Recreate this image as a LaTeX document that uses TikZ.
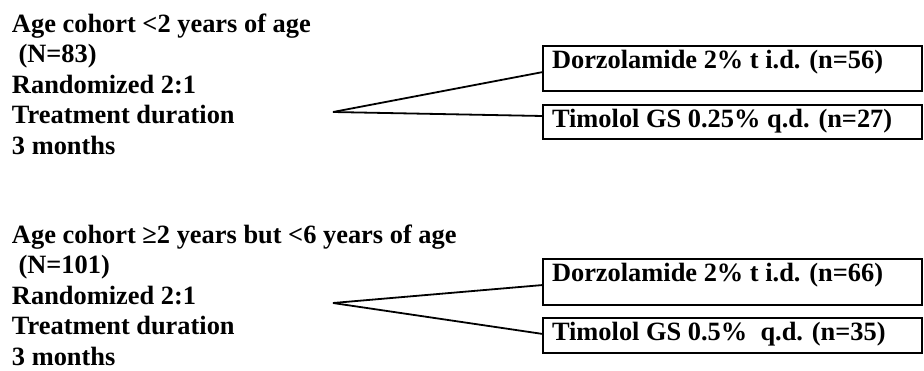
\documentclass[tikz,border=0pt]{standalone}
\usepackage{fontspec}
\setmainfont{Liberation Serif}
\usetikzlibrary{calc}
\begin{document}
\begin{tikzpicture}[x=1pt,y=-1pt,
  txt/.style={inner sep=0pt,outer sep=0pt,anchor=base west,align=left,
    font=\bfseries\fontsize{26.4}{30.5}\selectfont},
  armbox/.style={draw,line width=2.4pt,inner sep=0pt,outer sep=0pt,anchor=north west,minimum width=379pt},
  conn/.style={line width=1.8pt}]
\useasboundingbox (0,0) rectangle (924,370);
% top cohort (base anchor = baseline of last line)
\node[txt] (c1) at (12,154) {Age cohort <2 years of age\\\ (N=83)\\Randomized 2:1\\Treatment duration\\3 months};
\coordinate (a1) at (333,112);
\node[armbox,minimum height=45pt] (d1) at (543,46) {};
\node[armbox,minimum height=34pt] (t1) at (543,105) {};
\node[txt] (d1t) at (552,68) {Dorzolamide 2\% t i.d. (n=56)};
\node[txt] (t1t) at (552,127) {Timolol GS 0.25\% q.d. (n=27)};
\draw[conn] (a1) -- ([yshift=-3.5pt]d1.west);
\draw[conn] (a1) -- ([yshift=6pt]t1.west);
% bottom cohort
\node[txt] (c2) at (12,365) {Age cohort ≥2 years but <6 years of age\\\ (N=101)\\Randomized 2:1\\Treatment duration\\3 months};
\coordinate (a2) at (333,303);
\node[armbox,minimum height=46pt] (d2) at (543,259) {};
\node[armbox,minimum height=35pt] (t2) at (543,318) {};
\node[txt] (d2t) at (552,281) {Dorzolamide 2\% t i.d. (n=66)};
\node[txt] (t2t) at (552,340) {Timolol GS 0.5\%\ \ q.d. (n=35)};
\draw[conn] (a2) -- ([yshift=-3pt]d2.west);
\draw[conn] (a2) -- ([yshift=1.5pt]t2.west);
\end{tikzpicture}
\end{document}
